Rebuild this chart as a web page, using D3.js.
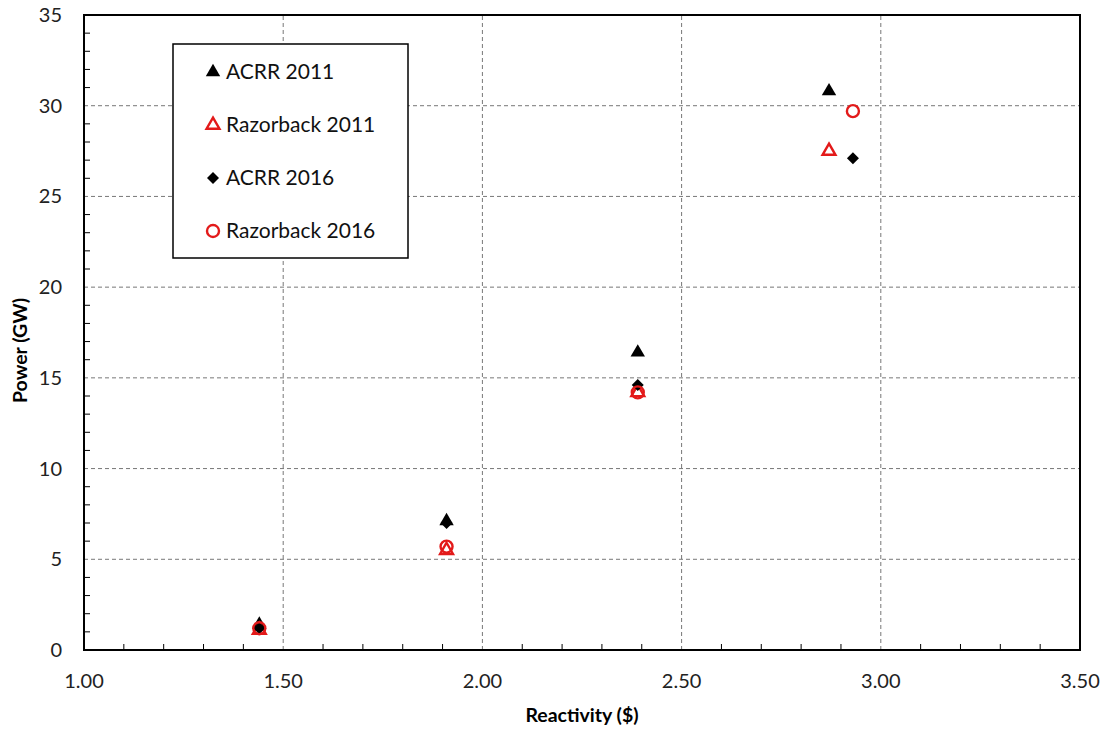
<!DOCTYPE html>
<html>
<head>
<meta charset="utf-8">
<script src="https://cdn.jsdelivr.net/npm/d3@7"></script>
<style>
  body { margin: 0; background: #fff; }
  svg { display: block; font-family: Lato, "Open Sans", sans-serif; }
</style>
</head>
<body>
<div id="chart"></div>
<script>
// reactivity ($) for each measurement set
const reactivity2011 = [1.44, 1.91, 2.39, 2.87];
const reactivity2016 = [1.44, 1.91, 2.39, 2.93];

// power (GW)
const acrr2011 = [1.4, 7.1, 16.4, 30.8];
const razorback2011 = [1.1, 5.5, 14.2, 27.5];
const acrr2016 = [1.2, 7.0, 14.6, 27.1];
const razorback2016 = [1.2, 5.7, 14.2, 29.7];

const xTicks = [1.0, 1.5, 2.0, 2.5, 3.0, 3.5];
const yTicks = [0, 5, 10, 15, 20, 25, 30, 35];

const series = [
    { name: 'ACRR 2011', x: reactivity2011, y: acrr2011, shape: 'triFill' },
    { name: 'Razorback 2011', x: reactivity2011, y: razorback2011, shape: 'triOpen' },
    { name: 'ACRR 2016', x: reactivity2016, y: acrr2016, shape: 'diamond' },
    { name: 'Razorback 2016', x: reactivity2016, y: razorback2016, shape: 'circle' }
];

const width = 1111, height = 730;
const margin = { top: 15, right: 31, bottom: 80, left: 84 };

const svg = d3.select('#chart').append('svg')
    .attr('width', width)
    .attr('height', height);

const x = d3.scaleLinear().domain([1, 3.5]).range([margin.left, width - margin.right]);
const y = d3.scaleLinear().domain([0, 35]).range([height - margin.bottom, margin.top]);

// grid
svg.append('g')
    .selectAll('line')
    .data(xTicks.slice(1, -1))
    .join('line')
    .attr('x1', d => x(d)).attr('x2', d => x(d))
    .attr('y1', y(0)).attr('y2', y(35))
    .attr('stroke', '#777').attr('stroke-width', 1).attr('stroke-dasharray', '4,3');

svg.append('g')
    .selectAll('line')
    .data(yTicks.slice(1, -1))
    .join('line')
    .attr('x1', x(1)).attr('x2', x(3.5))
    .attr('y1', d => y(d)).attr('y2', d => y(d))
    .attr('stroke', '#777').attr('stroke-width', 1).attr('stroke-dasharray', '4,3');

// minor ticks (inside)
svg.append('g')
    .selectAll('line')
    .data(d3.range(1.1, 3.45, 0.1).filter(v => Math.abs(v * 2 - Math.round(v * 2)) > 0.01))
    .join('line')
    .attr('x1', d => x(d)).attr('x2', d => x(d))
    .attr('y1', y(0)).attr('y2', y(0) - 6)
    .attr('stroke', '#000').attr('stroke-width', 1);

svg.append('g')
    .selectAll('line')
    .data(d3.range(1, 35).filter(v => v % 5 !== 0))
    .join('line')
    .attr('x1', x(1)).attr('x2', x(1) + 6)
    .attr('y1', d => y(d)).attr('y2', d => y(d))
    .attr('stroke', '#000').attr('stroke-width', 1);

// plot frame
svg.append('rect')
    .attr('x', x(1)).attr('y', y(35))
    .attr('width', x(3.5) - x(1)).attr('height', y(0) - y(35))
    .attr('fill', 'none').attr('stroke', '#000').attr('stroke-width', 2);

// tick labels
svg.append('g')
    .selectAll('text')
    .data(xTicks)
    .join('text')
    .attr('x', d => x(d)).attr('y', y(0) + 38)
    .attr('text-anchor', 'middle')
    .attr('font-size', 20)
    .attr('fill', '#222')
    .text(d => d.toFixed(2));

svg.append('g')
    .selectAll('text')
    .data(yTicks)
    .join('text')
    .attr('x', x(1) - 22).attr('y', d => y(d) + 7)
    .attr('text-anchor', 'end')
    .attr('font-size', 20)
    .attr('fill', '#222')
    .text(d => d);

// axis titles
svg.append('text')
    .attr('x', (x(1) + x(3.5)) / 2).attr('y', 722)
    .attr('text-anchor', 'middle')
    .attr('font-size', 19.5).attr('font-weight', 'bold')
    .text('Reactivity ($)');

svg.append('text')
    .attr('transform', `translate(27,${(y(0) + y(35)) / 2 + 18}) rotate(-90)`)
    .attr('text-anchor', 'middle')
    .attr('font-size', 19.5).attr('font-weight', 'bold')
    .text('Power (GW)');

// markers
function drawMarker(g, shape) {
    if (shape === 'triFill') {
        g.append('path').attr('d', d3.symbol(d3.symbolTriangle, 90)()).attr('fill', '#000');
    } else if (shape === 'triOpen') {
        g.append('path').attr('d', d3.symbol(d3.symbolTriangle, 72)())
            .attr('fill', 'none').attr('stroke', '#e31a1a').attr('stroke-width', 2.4);
    } else if (shape === 'diamond') {
        g.append('path').attr('d', d3.symbol(d3.symbolSquare, 72)()).attr('transform', 'rotate(45)')
            .attr('fill', '#000');
    } else {
        g.append('circle').attr('r', 6)
            .attr('fill', 'none').attr('stroke', '#e31a1a').attr('stroke-width', 2.4);
    }
}

series.forEach(s => {
    s.x.forEach((xv, i) => {
        const g = svg.append('g').attr('transform', `translate(${x(xv)},${y(s.y[i])})`);
        drawMarker(g, s.shape);
    });
});

// legend
const legend = svg.append('g');
legend.append('rect')
    .attr('x', 173).attr('y', 44).attr('width', 235).attr('height', 214)
    .attr('fill', '#fff').attr('stroke', '#000').attr('stroke-width', 1.5);

series.forEach((s, i) => {
    const ly = 72 + i * 53;
    const g = legend.append('g').attr('transform', `translate(213,${ly})`);
    drawMarker(g, s.shape);
    legend.append('text')
        .attr('x', 226).attr('y', ly + 7)
        .attr('font-size', 21)
        .attr('fill', '#111')
        .text(s.name);
});
</script>
</body>
</html>
